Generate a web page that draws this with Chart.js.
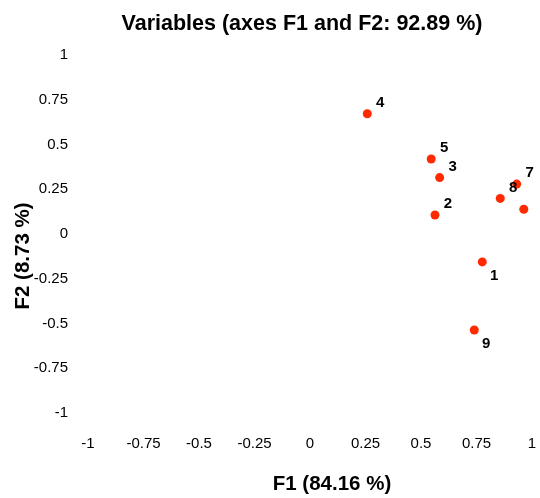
<!DOCTYPE html>
<html>
<head>
<meta charset="utf-8">
<script src="https://cdn.jsdelivr.net/npm/chart.js@4.4.1/dist/chart.umd.min.js"></script>
<style>
  html, body { margin: 0; padding: 0; background: #fff; }
  #wrap { width: 540px; height: 498px; position: relative; }
</style>
</head>
<body>
<div id="wrap"><canvas id="chart"></canvas></div>
<script>
// Variable coordinates on the first two factors
const varNames = ['1', '2', '3', '4', '5', '6', '7', '8', '9'];
const f1Values = [0.776, 0.563, 0.584, 0.258, 0.546, 0.963, 0.931, 0.857, 0.740];
const f2Values = [-0.156, 0.106, 0.315, 0.672, 0.419, 0.138, 0.279, 0.199, -0.536];
// labels the reference puts under the point, and the one it leaves out
const labelsBelow = ['1', '9'];
const labelsHidden = ['6'];

const axisTicks = [-1, -0.75, -0.5, -0.25, 0, 0.25, 0.5, 0.75, 1];

const chartTitle = 'Variables (axes F1 and F2: 92.89 %)';
const xTitle = 'F1 (84.16 %)';
const yTitle = 'F2 (8.73 %)';

const pointColor = '#FF2A00';
const textColor = '#000000';
const fontFamily = "'Liberation Sans', Arial, sans-serif";
const tickFont = { family: fontFamily, size: 15 };

const points = varNames.map((n, i) => ({ x: f1Values[i], y: f2Values[i] }));

// draws point names next to the dots and the three titles
const textPlugin = {
  id: 'textPlugin',
  afterDatasetsDraw(chart) {
    const ctx = chart.ctx;
    const meta = chart.getDatasetMeta(0);
    ctx.save();
    ctx.fillStyle = textColor;
    ctx.font = 'bold 15px ' + fontFamily;
    ctx.textAlign = 'center';
    ctx.textBaseline = 'middle';
    meta.data.forEach((el, i) => {
      const name = varNames[i];
      if (labelsHidden.includes(name)) return;
      const below = labelsBelow.includes(name);
      ctx.fillText(name, el.x + (below ? 12 : 13), el.y + (below ? 14 : -11));
    });
    ctx.restore();
  },
  afterDraw(chart) {
    const ctx = chart.ctx;
    ctx.save();
    ctx.fillStyle = textColor;
    ctx.textAlign = 'center';
    ctx.textBaseline = 'middle';
    ctx.font = 'bold 21.5px ' + fontFamily;
    ctx.fillText(chartTitle, 302, 24);
    ctx.font = 'bold 20.5px ' + fontFamily;
    ctx.fillText(xTitle, 332, 484);
    ctx.translate(23, 256);
    ctx.rotate(-Math.PI / 2);
    ctx.fillText(yTitle, 0, 0);
    ctx.restore();
  }
};

new Chart(document.getElementById('chart'), {
  type: 'scatter',
  data: {
    datasets: [{
      label: 'Variables',
      data: points,
      backgroundColor: pointColor,
      borderWidth: 0,
      pointRadius: 4.5,
      pointHoverRadius: 4.5
    }]
  },
  options: {
    responsive: true,
    maintainAspectRatio: false,
    animation: false,
    layout: { padding: { top: 55, right: 8, left: 0, bottom: 0 } },
    plugins: {
      legend: { display: false },
      tooltip: { enabled: false }
    },
    scales: {
      x: {
        type: 'linear',
        min: -1,
        max: 1,
        afterBuildTicks: s => { s.ticks = axisTicks.map(v => ({ value: v })); },
        afterFit: s => { s.height = 85; s.paddingLeft = 0; s.paddingRight = 0; },
        grid: { display: false, drawTicks: false },
        border: { display: false },
        ticks: {
          color: textColor,
          font: tickFont,
          padding: 22,
          maxRotation: 0,
          autoSkip: false,
          callback: v => String(+Number(v).toFixed(2))
        }
      },
      y: {
        type: 'linear',
        min: -1,
        max: 1,
        afterBuildTicks: s => { s.ticks = axisTicks.map(v => ({ value: v })); },
        afterFit: s => { s.width = 88; s.paddingTop = 0; s.paddingBottom = 0; },
        grid: { display: false, drawTicks: false },
        border: { display: false },
        ticks: {
          color: textColor,
          font: tickFont,
          padding: 20,
          autoSkip: false,
          callback: v => String(+Number(v).toFixed(2))
        }
      }
    }
  },
  plugins: [textPlugin]
});
</script>
</body>
</html>
